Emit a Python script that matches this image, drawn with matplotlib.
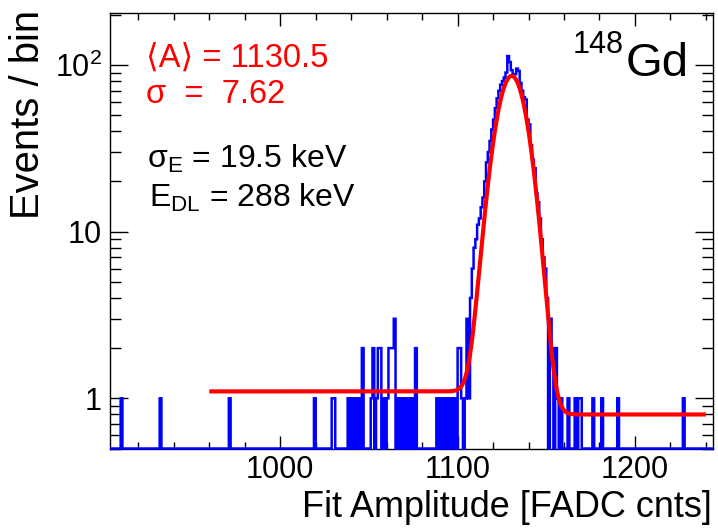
import math
import numpy as np
import matplotlib
matplotlib.use("Agg")
import matplotlib.pyplot as plt
from matplotlib.ticker import FixedLocator, FixedFormatter, LogLocator, MultipleLocator, NullFormatter

plt.rcParams['font.family'] = ['Liberation Sans', 'DejaVu Sans']
plt.rcParams['mathtext.fontset'] = 'custom'
plt.rcParams['mathtext.rm'] = 'Liberation Sans'
plt.rcParams['mathtext.it'] = 'Liberation Sans:italic'
plt.rcParams['mathtext.bf'] = 'Liberation Sans:bold'

# ---- histogram: 1 FADC count per bin ----
bin_lo, bin_hi = 904, 1244

# isolated low-amplitude entries (bin left edge, events)
low_tail_bins = [910, 932, 971, 1019, 1029, 1030,
                 1038, 1040, 1042, 1044, 1046,
                 1051, 1052, 1054, 1055, 1056, 1058, 1060, 1061, 1062, 1063, 1064,
                 1066, 1068, 1070, 1072, 1074, 1076,
                 1088, 1090, 1092, 1094, 1096, 1098]
low_tail_counts = [1, 1, 1, 1, 1, 1,
                   1, 1, 1, 1, 2,
                   1, 2, 1, 2, 2, 1, 1, 2, 2, 2, 3,
                   1, 1, 1, 1, 1, 2,
                   1, 1, 1, 1, 1, 1]

# 148Gd alpha peak, consecutive bins starting at peak_first_bin
peak_first_bin = 1099
peak_counts = [0, 2, 2, 1, 0, 1, 3, 1, 4, 6,
               8, 9, 11, 12, 14, 16, 20, 26, 30, 35,
               41, 47, 55, 63, 70, 76, 80, 84, 90, 113,
               104, 93, 88, 88, 95, 92, 78, 70, 64, 62,
               47, 44, 33, 27, 24, 17, 15, 12, 9, 7,
               6, 4, 0, 3, 2, 0, 2, 1, 0, 1]

high_tail_bins = [1162, 1166, 1168, 1169, 1176, 1181, 1190, 1227]
high_tail_counts = [1, 1, 1, 1, 1, 1, 1, 1]

# fit: gaussian on a step background
fit_mean = 1130.5
fit_sigma = 7.62
fit_amp = 85.0
bkg_low = 1.1
bkg_high = 0.8
fit_range = (960, 1240)

y_ticks = [1, 10, 100]
y_tick_labels = ['1', '10', r'$10^{2}$']

edges = np.arange(bin_lo, bin_hi + 1)
counts = np.zeros(len(edges) - 1)
for b, c in zip(low_tail_bins, low_tail_counts):
    counts[b - bin_lo] = c
for i, c in enumerate(peak_counts):
    counts[peak_first_bin - bin_lo + i] = c
for b, c in zip(high_tail_bins, high_tail_counts):
    counts[b - bin_lo] = c

y_min, y_max = 0.5, 204

W, H = 718, 531
fig = plt.figure(figsize=(W / 100, H / 100), dpi=100)
ax = fig.add_axes([110 / W, 1 - 448.5 / H, (713 - 110) / W, (448.5 - 13.3) / H])
ax.set_yscale('log')
ax.set_xlim(bin_lo, bin_hi)
ax.set_ylim(y_min, y_max)

# empty bins sit on the lower frame in a log display
shown = np.where(counts > 0, counts, y_min)
hist = ax.stairs(shown, edges, baseline=None, color='#0000ff', lw=1.8,
                 zorder=3, clip_on=False)
hist.set_snap(False)

xf = np.linspace(fit_range[0], fit_range[1], 2000)
erfc = np.vectorize(math.erfc)
yf = (fit_amp * np.exp(-0.5 * ((xf - fit_mean) / fit_sigma) ** 2)
      + bkg_high + (bkg_low - bkg_high) * 0.5 * erfc((xf - fit_mean) / (math.sqrt(2) * fit_sigma)))
ax.plot(xf, yf, color='#ff0000', lw=3.0, zorder=4, solid_capstyle='butt')

ax.xaxis.set_major_locator(MultipleLocator(100))
ax.xaxis.set_minor_locator(MultipleLocator(20))
ax.yaxis.set_major_locator(FixedLocator(y_ticks))
ax.yaxis.set_major_formatter(FixedFormatter(y_tick_labels))
ax.yaxis.set_minor_locator(LogLocator(base=10, subs=np.arange(2, 10)))
ax.yaxis.set_minor_formatter(NullFormatter())

ax.tick_params(which='both', direction='in', top=True, right=True, width=1.0,
               labelsize=22, colors='black')
ax.tick_params(axis='x', which='major', length=9.5, pad=5)
ax.tick_params(axis='x', which='minor', length=5)
ax.tick_params(axis='y', which='major', length=13, pad=6)
ax.tick_params(axis='y', which='minor', length=8)
for s in ax.spines.values():
    s.set_linewidth(1.0)


def put(x, y, s, **kw):
    fig.text(x / W, 1 - y / H, s, **kw)


put(712, 517, 'Fit Amplitude [FADC cnts]', ha='right', va='baseline', fontsize=25.9)
put(28, 10, 'Events / bin', ha='center', va='top', rotation=90, fontsize=28.8)

put(146, 66.7, '\u27e8A\u27e9 = 1130.5', color='#ff0000', fontsize=23.5, va='baseline')
put(146, 102.7, '\u03c3  =  7.62', color='#ff0000', fontsize=23.5, va='baseline')
put(147, 168.3, '\u03c3$_{\\mathrm{E}}$ = 19.5 keV', color='black', fontsize=23, va='baseline')
put(149, 206.7, 'E$_{\\mathrm{DL}}$ = 288 keV', color='black', fontsize=23, va='baseline')

put(624, 53, '148', ha='right', va='baseline', fontsize=22)
put(626, 76, 'Gd', ha='left', va='baseline', fontsize=34)

fig.savefig('out.png', dpi=100)
